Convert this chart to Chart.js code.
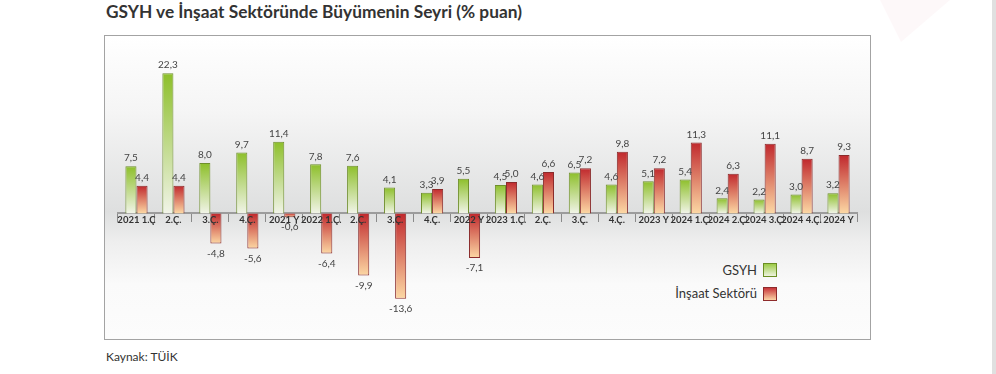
<!DOCTYPE html>
<html lang="tr">
<head>
<meta charset="utf-8">
<script src="https://cdn.jsdelivr.net/npm/chart.js@4.4.1/dist/chart.umd.min.js"></script>
<style>
    html, body { margin: 0; padding: 0; background: #fff; }
    body { width: 996px; height: 374px; position: relative; overflow: hidden; font-family: Lato, "Open Sans", sans-serif; }
    #title { position: absolute; left: 106px; top: 1px; font-size: 17.3px; font-weight: bold; color: #333; white-space: nowrap; }
    #frame { position: absolute; left: 104px; top: 35px; width: 765px; height: 303px; border: 1.5px solid #a3a3a3;
        background: linear-gradient(to bottom, #ffffff 0%, #f5f5f5 25%, #dedfdf 58%, #eeeeee 68%, #fafafa 82%, #fcfcfc 100%); }
    #deco { position: absolute; left: 880px; top: 0; width: 70px; height: 42px; background: rgba(240, 205, 215, 0.15);
        clip-path: polygon(0 0, 100% 0, 30% 100%); }
    #strip { position: absolute; left: 992px; top: 0; width: 4px; height: 374px; background: #e0e0e0; }
    #source { position: absolute; left: 106px; top: 349px; font-size: 12px; font-weight: normal; color: #333; }
    canvas { position: absolute; left: 0; top: 0; }
    .leg { position: absolute; font-size: 13px; color: #333; white-space: nowrap; text-align: right; }
    .box { position: absolute; width: 12px; height: 12px; }
</style>
</head>
<body>
<div id="deco"></div>
<div id="strip"></div>
<div id="title">GSYH ve İnşaat Sektöründe Büyümenin Seyri (% puan)</div>
<div id="frame"></div>
<div class="leg" style="right:239px; top:262px;">GSYH</div>
<div class="box" style="left:763px; top:263px; border:1px solid #6b8e23; background:linear-gradient(#9ccb45,#eef3df);"></div>
<div class="leg" style="right:239px; top:285px;">İnşaat Sektörü</div>
<div class="box" style="left:763px; top:287px; border:1px solid #8e2b2b; background:linear-gradient(#c8353a,#fbd5a6);"></div>
<div id="source">Kaynak: TÜİK</div>
<canvas id="chart" width="996" height="374"></canvas>
<script>
// Çeyrek / yıl etiketleri
const categories = ['2021 1.Ç', '2.Ç.', '3.Ç.', '4.Ç.', '2021 Y', '2022 1.Ç.', '2.Ç.', '3.Ç.', '4.Ç.', '2022 Y',
    '2023 1.Ç.', '2.Ç.', '3.Ç.', '4.Ç.', '2023 Y', '2024 1.Ç.', '2024 2.Ç.', '2024 3.Ç.', '2024 4.Ç.', '2024 Y'];
const gsyh = [7.5, 22.3, 8.0, 9.7, 11.4, 7.8, 7.6, 4.1, 3.3, 5.5, 4.5, 4.6, 6.5, 4.6, 5.1, 5.4, 2.4, 2.2, 3.0, 3.2];
const insaat = [4.4, 4.4, -4.8, -5.6, -0.6, -6.4, -9.9, -13.6, 3.9, -7.1, 5.0, 6.6, 7.2, 9.8, 7.2, 11.3, 6.3, 11.1, 8.7, 9.3];
const seriesNames = ['GSYH', 'İnşaat Sektörü'];

// Her çubuk için üstten alta degrade
function barGradient(top, bottom) {
    return function(context) {
        const chart = context.chart;
        const y = chart.scales.y;
        if (!chart.chartArea || !y || context.parsed === undefined) return top;
        const p0 = y.getPixelForValue(0);
        const p1 = y.getPixelForValue(context.parsed.y);
        const a = Math.min(p0, p1), b = Math.max(p0, p1);
        if (b - a < 1) return top;
        const g = chart.ctx.createLinearGradient(0, a, 0, b);
        g.addColorStop(0, top);
        g.addColorStop(1, bottom);
        return g;
    };
}

// Değer etiketleri
const valueLabels = {
    id: 'valueLabels',
    afterDatasetsDraw(chart) {
        const ctx = chart.ctx;
        ctx.save();
        ctx.font = '10px Lato, "Open Sans", sans-serif';
        ctx.fillStyle = '#444';
        ctx.textAlign = 'center';
        ctx.textBaseline = 'middle';
        chart.data.datasets.forEach((ds, i) => {
            chart.getDatasetMeta(i).data.forEach((bar, j) => {
                const v = ds.data[j];
                const txt = v.toFixed(1).replace('.', ',');
                const y = v >= 0 ? bar.y - 8 : bar.y + 10;
                ctx.fillText(txt, bar.x, y);
            });
        });
        ctx.restore();
    }
};

new Chart(document.getElementById('chart'), {
    type: 'bar',
    data: {
        labels: categories,
        datasets: [{
            label: seriesNames[0],
            data: gsyh,
            backgroundColor: barGradient('#8dbf2a', '#f1f4e8'),
            borderColor: '#6f8f2c',
            borderWidth: 1
        }, {
            label: seriesNames[1],
            data: insaat,
            backgroundColor: barGradient('#c0282d', '#fcd8a4'),
            borderColor: '#8a2b2b',
            borderWidth: 1
        }]
    },
    options: {
        responsive: false,
        animation: false,
        layout: { padding: { left: 118, right: 139, top: 50, bottom: 47.5 } },
        datasets: { bar: { categoryPercentage: 0.6, barPercentage: 1 } },
        scales: {
            x: {
                position: { y: 0 },
                grid: { display: true, drawOnChartArea: false, drawTicks: true, tickLength: 8, offset: true, color: '#8a8a8a' },
                border: { display: true, color: '#9c9c9c', width: 2 },
                ticks: { z: 1, color: '#333', font: { family: 'Lato, "Open Sans", sans-serif', size: 9.5, weight: 'bold' }, padding: -7, maxRotation: 0, autoSkip: false }
            },
            y: { display: false, min: -18, max: 26 }
        },
        plugins: { legend: { display: false }, tooltip: { enabled: false } }
    },
    plugins: [valueLabels]
});
</script>
</body>
</html>
